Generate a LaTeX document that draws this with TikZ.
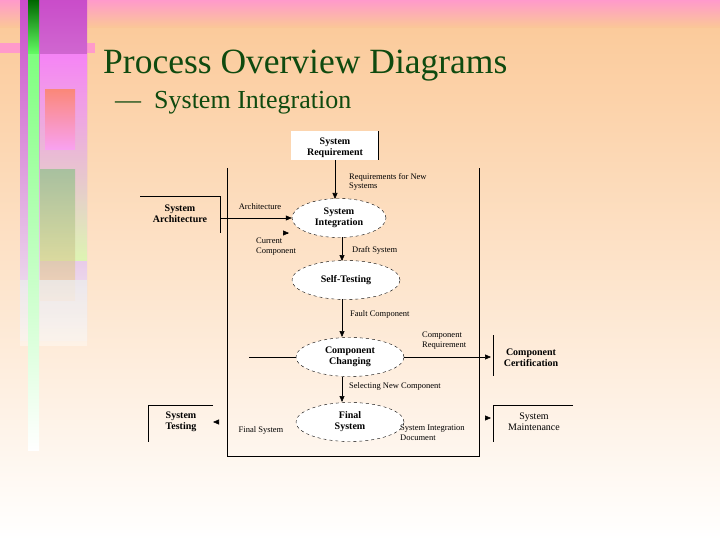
\documentclass[tikz,border=0pt]{standalone}
\usepackage{fontspec}
\setmainfont{Liberation Serif}
\usetikzlibrary{arrows.meta,shapes.geometric,calc}
\definecolor{peach}{HTML}{FBC896}
\definecolor{pinkb}{HTML}{FF9ACB}
\definecolor{tgreen}{HTML}{0F4A0F}
\begin{document}
\begin{tikzpicture}[x=1pt,y=-1pt,
  proc/.style={ellipse,draw,dashed,fill=white,minimum width=#1,minimum height=39pt,inner sep=0pt,align=center,font=\fontsize{10}{11}\selectfont\bfseries},
  ext/.style={align=center,font=\fontsize{10}{11}\selectfont\bfseries},
  lbl/.style={align=left,font=\fontsize{8.5}{9.5}\selectfont,inner sep=0pt},
  flow/.style={-{Triangle[length=6pt,width=5pt]}},
  line/.style={line width=0.6pt}]
\useasboundingbox (0,0) rectangle (720,540);
\shade[top color=peach,bottom color=white] (0,0) rectangle (720,540);
\shade[top color=pinkb,bottom color=peach] (0,0) rectangle (720,28);
\fill[pinkb] (0,43) rectangle (95,53);
% decorative strip
\shade[top color=violet!60!magenta!70,bottom color=white!90!gray] (20,0) rectangle (87,340);
\shade[top color=magenta!45,bottom color=green!40!yellow!35,opacity=0.8] (40,55) rectangle (87,260);
\shade[top color=orange!60!red!70,bottom color=magenta!40,opacity=0.7] (45,90) rectangle (75,150);
\shade[top color=green!50!black!50,bottom color=orange!40,opacity=0.6] (40,170) rectangle (75,300);
\shade[top color=white!85!gray,bottom color=peach!20,opacity=0.8] (20,280) rectangle (87,345);
\shade[top color=green!40!black,bottom color=green!60!white] (28,0) rectangle (39,55);
\shade[top color=green!50!white,bottom color=white] (28,55) rectangle (39,450);
\node[anchor=base west,inner sep=0pt,text=tgreen,font=\fontsize{35.5}{40}\selectfont] (title) at (103,74) {Process Overview Diagrams};
\node[anchor=base west,inner sep=0pt,text=tgreen,font=\fontsize{26}{30}\selectfont] (sub) at (115,109) {—\ \ System Integration};
% frame
\draw[line] (227,168) -- (227,456) -- (479,456) -- (479,168);
% external
\fill[white] (291,131) rectangle (378,160);
\draw[line] (378,131) -- (378,160);
\node[ext] (req) at (335,148) {System\\Requirement};
\draw[line] (140,196) -- (220,196) -- (220,233);
\node[ext] (arch) at (180,214) {System\\Architecture};
\draw[line] (493,335) -- (493,376);
\node[ext] (cert) at (531,358) {Component\\Certification};
\draw[line] (213,405) -- (148,405) -- (148,442);
\node[ext] (test) at (181,422) {System\\Testing};
\draw[line] (573,405) -- (493,405) -- (493,442);
\node[ext,font=\fontsize{10}{11}\selectfont] (maint) at (534,422) {System\\Maintenance};
% processes
\node[proc=94pt] (si) at (339,218) {System\\Integration};
\node[proc=108pt] (st) at (346,280) {Self-Testing};
\node[proc=108pt] (cc) at (350,357) {Component\\Changing};
\node[proc=108pt] (fs) at (350,422) {Final\\System};
% flows
\draw[line,flow] (335,160) -- (335,199);
\draw[line,flow] (220,218) -- (si.west);
\coordinate (cur) at (289,233);
\draw[line,flow] ($(cur)+(-1,0)$) -- (cur);
\draw[line,flow] (342,237) -- (342,261);
\draw[line,flow] (342,299) -- (342,337);
\coordinate (ccin) at (249,357);
\draw[line] (ccin) -- (cc.west);
\coordinate (ccout) at (491,357);
\draw[line,flow] (cc.east) -- (ccout);
\draw[line,flow] (342,377) -- (342,402);
\coordinate (tin) at (213,422);
\draw[line,flow] (217,422) -- (tin);
\coordinate (min) at (491,418);
\draw[line,flow] (487,418) -- (min);
% labels
\node[lbl,anchor=north west] (l1) at (349,173) {Requirements for New\\Systems};
\node[lbl] (l2) at (260,207) {Architecture};
\node[lbl,anchor=north west] (l3) at (256,238) {Current\\Component};
\node[lbl,anchor=west] (l4) at (352,250) {Draft System};
\node[lbl,anchor=west] (l5) at (350,314) {Fault Component};
\node[lbl,anchor=north west] (l6) at (422,332) {Component\\Requirement};
\node[lbl,anchor=west] (l7) at (349,386) {Selecting New Component};
\node[lbl] (l8) at (261,430) {Final System};
\node[lbl,anchor=north west] (l9) at (400,425) {System Integration\\Document};
\end{tikzpicture}
\end{document}
